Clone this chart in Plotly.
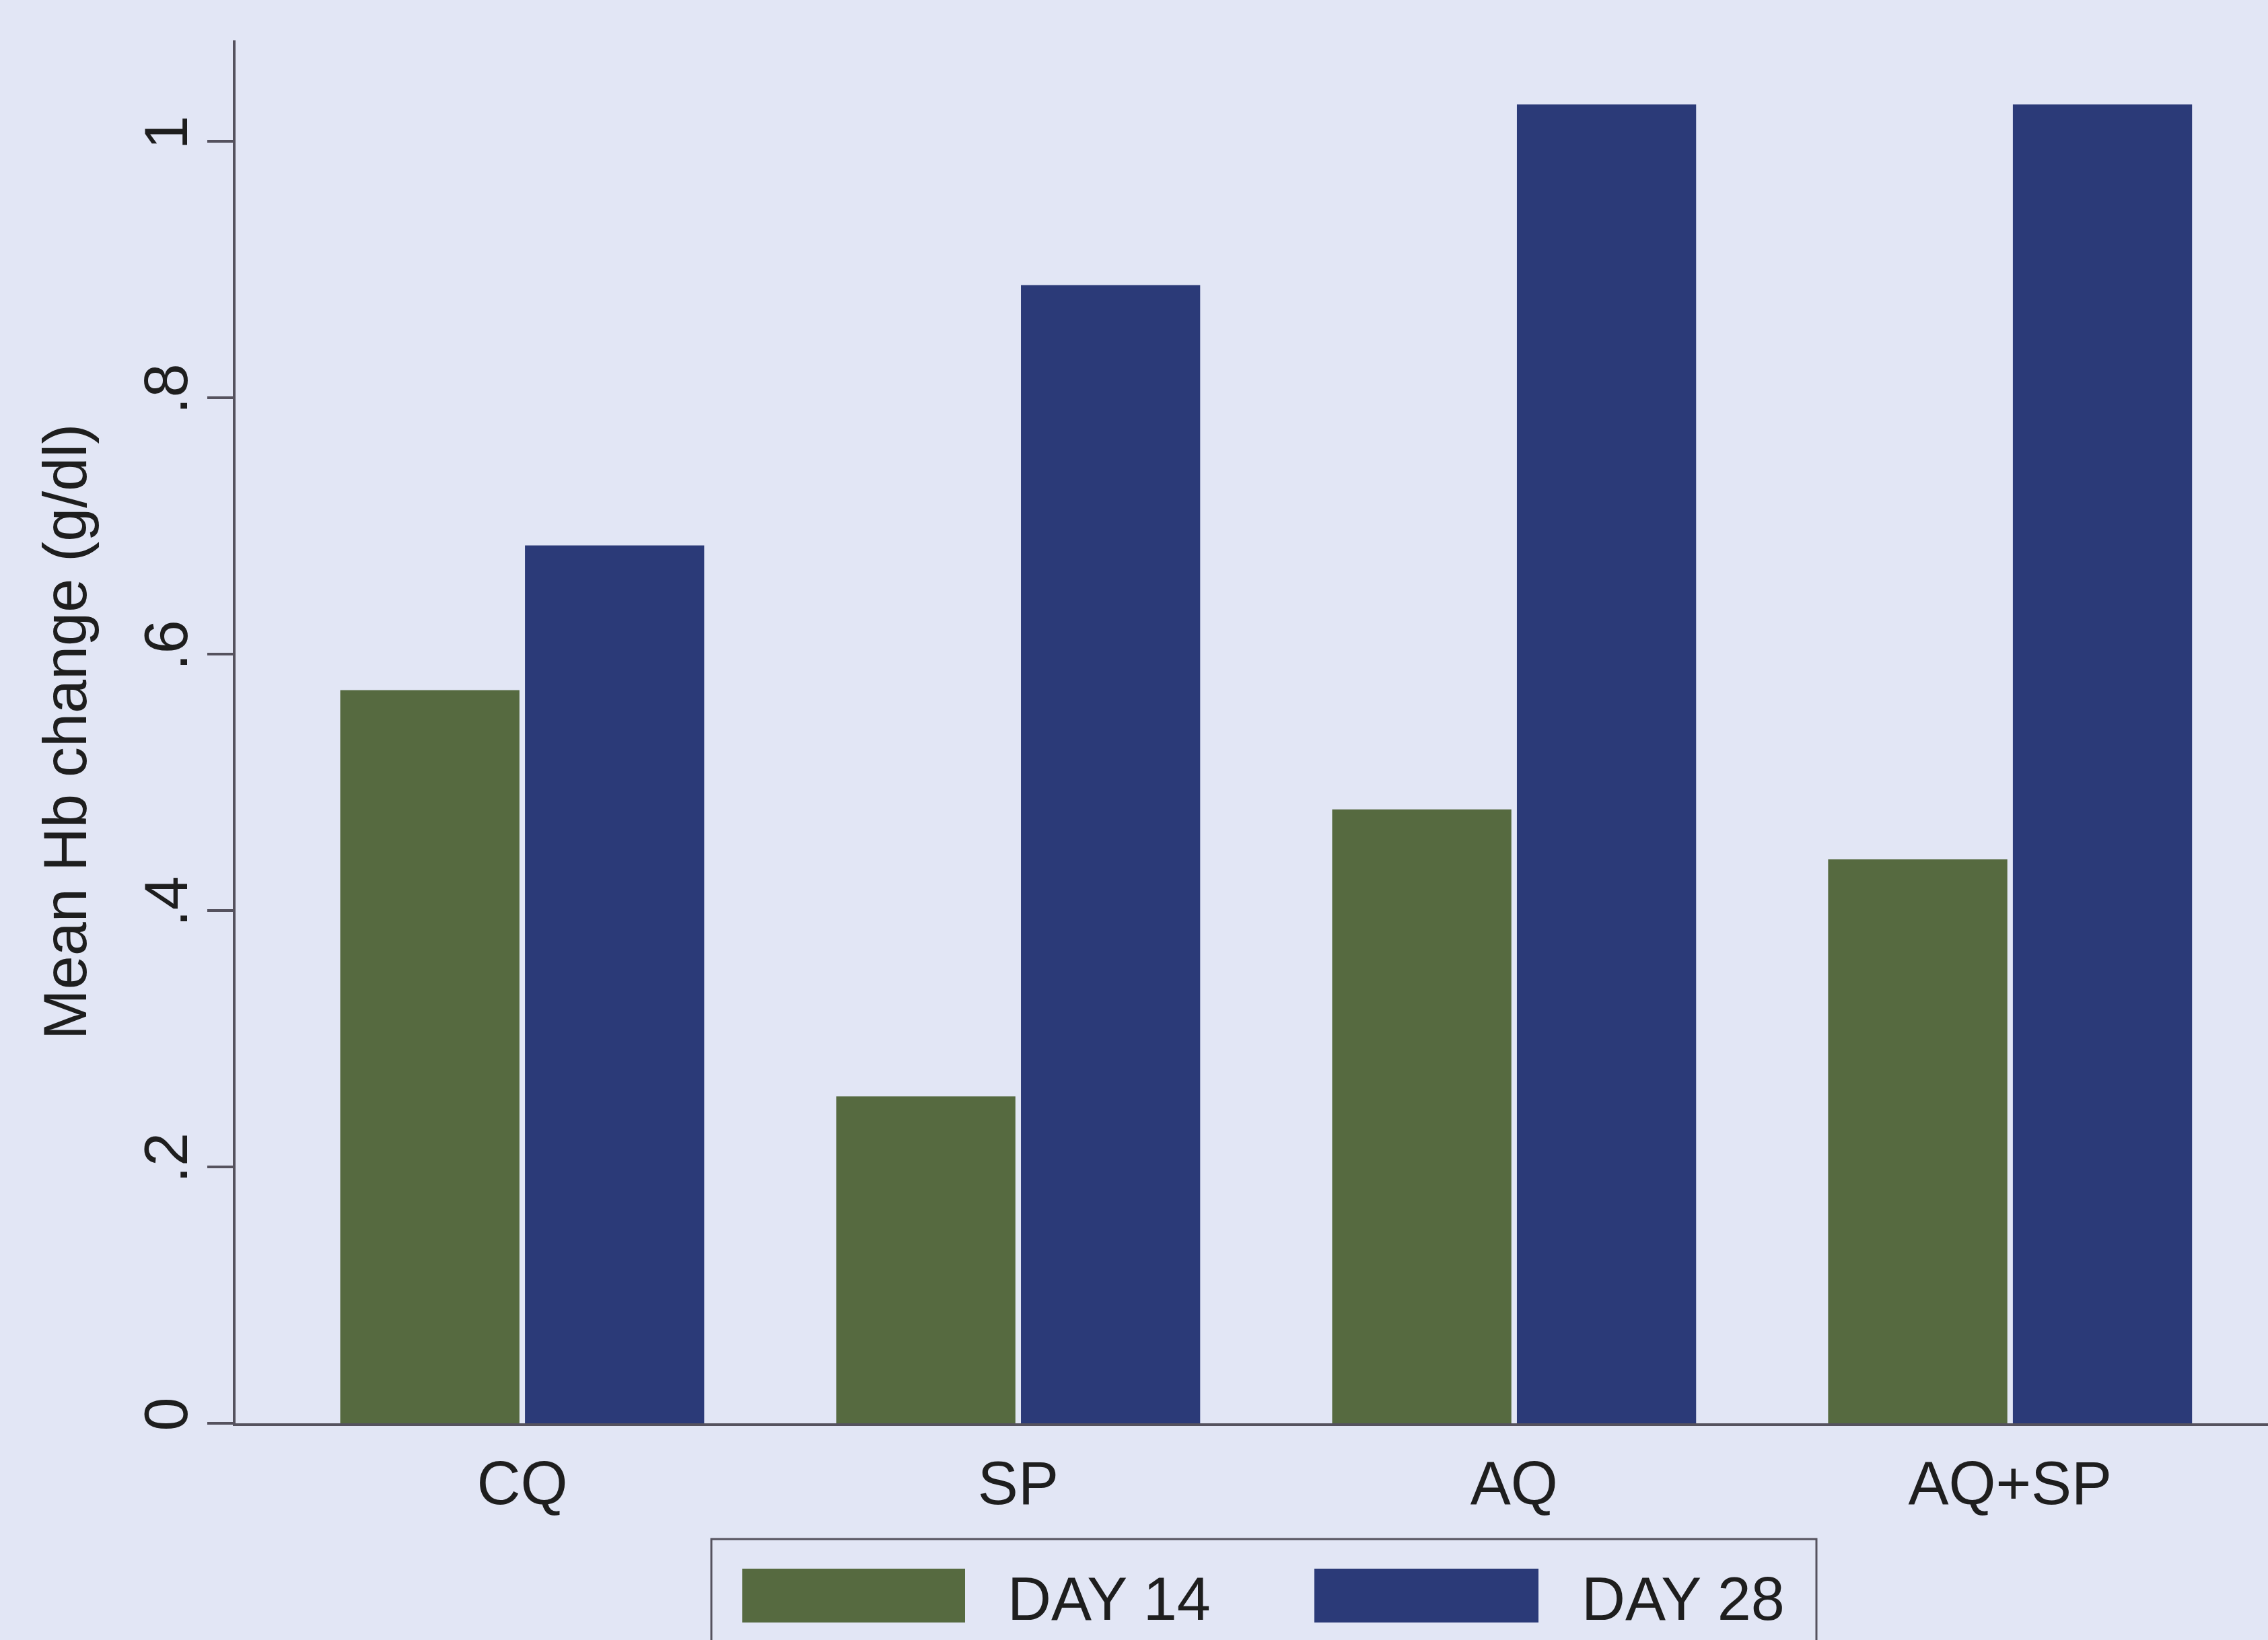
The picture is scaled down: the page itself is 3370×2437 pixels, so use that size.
import plotly.graph_objects as go

# ---- data ----
categories = ["CQ", "SP", "AQ", "AQ+SP"]
series_names = ["DAY 14", "DAY 28"]
day14 = [0.572, 0.255, 0.479, 0.440]
day28 = [0.685, 0.888, 1.029, 1.029]
ytick_vals = [0, 0.2, 0.4, 0.6, 0.8, 1.0]
ytick_text = ["0", ".2", ".4", ".6", ".8", "1"]
y_title = "Mean Hb change (g/dl)"

# ---- style ----
W, H = 3370, 2437
ML, MR, MT, MB = 350, 0, 60, 322
BG = "#e2e6f5"
GREEN = "#566a40"
BLUE = "#2b3a78"
AXIS = "#55525e"
TXT = "#1e1e1e"
FONT = "Liberation Sans, Arial, sans-serif"
FS = 90
colors = [GREEN, BLUE]

fig = go.Figure()
for name, vals, c in zip(series_names, [day14, day28], colors):
    fig.add_trace(go.Bar(x=categories, y=vals, name=name, marker_color=c,
                         marker_line_width=0, showlegend=False))

PW = W - ML - MR
PH = H - MT - MB
def px_x(px):
    return (px - ML) / PW
def px_y(py):
    return (H - MB - py) / PH

# manual legend (Stata style, wide swatches)
shapes = [dict(type="rect", xref="paper", yref="paper",
               x0=px_x(1057), x1=px_x(2699), y0=px_y(2287), y1=px_y(2460),
               line=dict(color=AXIS, width=3), fillcolor="rgba(0,0,0,0)", layer="above")]
annotations = []
sw_x = [(1103, 1434), (1953, 2286)]
txt_x = [1495, 2348]
for (a, b), tx, name, c in zip(sw_x, txt_x, series_names, colors):
    shapes.append(dict(type="rect", xref="paper", yref="paper",
                       x0=px_x(a), x1=px_x(b), y0=px_y(2331), y1=px_y(2411),
                       line=dict(width=0), fillcolor=c))
    annotations.append(dict(xref="paper", yref="paper", x=px_x(tx), y=px_y(2376),
                            text=name, showarrow=False, xanchor="left", yanchor="middle",
                            font=dict(size=FS, color=TXT, family=FONT)))

fig.update_layout(
    width=W, height=H,
    margin=dict(l=ML, r=MR, t=MT, b=MB, pad=0),
    paper_bgcolor=BG, plot_bgcolor=BG,
    barmode="group", bargap=0.255, bargroupgap=0.03,
    font=dict(family=FONT, size=FS, color=TXT),
    shapes=shapes, annotations=annotations,
    showlegend=False,
)
fig.update_xaxes(range=[-0.578, 3.52], showline=True, linecolor=AXIS, linewidth=4,
                 ticks="", showgrid=False, zeroline=False, ticklabelstandoff=8,
                 tickfont=dict(size=FS, color=TXT, family=FONT))
fig.update_yaxes(range=[0, 1.079], tickvals=ytick_vals, ticktext=ytick_text,
                 tickangle=-90, ticks="outside", ticklen=38, tickwidth=4, tickcolor=AXIS,
                 showline=True, linecolor=AXIS, linewidth=4, showgrid=False, zeroline=False,
                 ticklabelstandoff=-6,
                 tickfont=dict(size=FS, color=TXT, family=FONT),
                 title=dict(text=y_title, font=dict(size=FS, color=TXT, family=FONT), standoff=40))

fig.write_html("out.html", config={"displayModeBar": False},
               post_script="document.body.style.margin='0px';")
